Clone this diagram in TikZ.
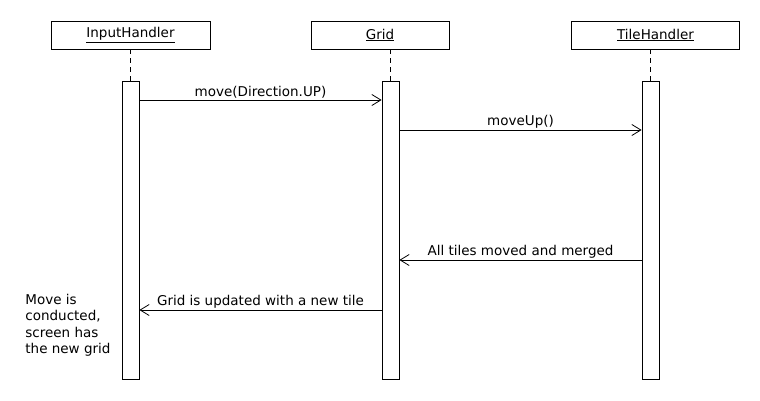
\documentclass[tikz,border=0pt]{standalone}
\usepackage{fontspec}
\setmainfont{DejaVu Sans}
\usetikzlibrary{arrows.meta}
\begin{document}
\begin{tikzpicture}[x=1pt,y=-1pt,line width=0.8pt,
  objbox/.style={draw,minimum width=159pt,minimum height=28pt,inner sep=0pt,font=\fontsize{13.5}{15}\selectfont},
  activation/.style={draw,fill=white,minimum width=17pt,minimum height=298pt,inner sep=0pt},
  lifeline/.style={dashed,dash pattern=on 5pt off 4pt},
  msg/.style={-{Straight Barb[length=9pt,width=11pt,line width=0.8pt]}},
  lbl/.style={font=\fontsize{13.5}{15}\selectfont,inner sep=1.5pt,anchor=south},
  note/.style={font=\fontsize{13.5}{16.3}\selectfont,align=left,anchor=north west,inner sep=0pt}]
\useasboundingbox (0,0) rectangle (760,400);

% participants
\node[objbox] (ih) at (130.5,35) {\underline{InputHandler}};
\node[objbox,minimum width=138pt] (gr) at (380,35) {\underline{Grid}};
\node[objbox,minimum width=168pt] (th) at (655.5,35) {\underline{TileHandler}};

% activation bars
\node[activation,anchor=north] (aih) at (130.5,81) {};
\node[activation,anchor=north] (agr) at (390.5,81) {};
\node[activation,anchor=north] (ath) at (650.5,81) {};

% lifelines
\draw[lifeline] (ih.south -| aih.north) -- (aih.north);
\draw[lifeline] (gr.south -| agr.north) -- (agr.north);
\draw[lifeline] (th.south -| ath.north) -- (ath.north);

% messages
\coordinate (m1) at (0,100);
\coordinate (m2) at (0,130);
\coordinate (m3) at (0,260);
\coordinate (m4) at (0,310);
\draw[msg] (aih.east |- m1) -- node[lbl] {move(Direction.UP)} (agr.west |- m1);
\draw[msg] (agr.east |- m2) -- node[lbl] {moveUp()} (ath.west |- m2);
\draw[msg] (ath.west |- m3) -- node[lbl] {All tiles moved and merged} (agr.east |- m3);
\draw[msg] (agr.west |- m4) -- node[lbl] {Grid is updated with a new tile} (aih.east |- m4);

% note
\node[note] (nt) at (25,294) {Move is\\conducted,\\screen has\\the new grid};
\end{tikzpicture}
\end{document}
